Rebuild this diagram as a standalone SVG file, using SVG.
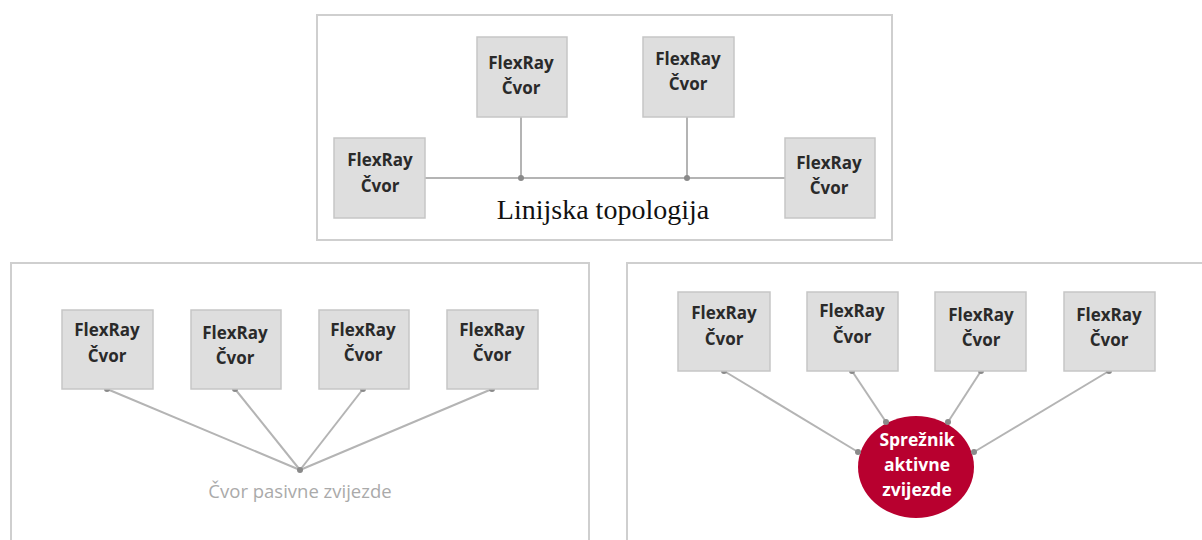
<svg xmlns="http://www.w3.org/2000/svg" width="1202" height="540" viewBox="0 0 1202 540">
<style>
.frame{fill:#fff;stroke:#cfcfcf;stroke-width:2}
.box{fill:#dedede;stroke:#c6c6c6;stroke-width:1.5}
.nt{font-family:"Open Sans","Noto Sans",sans-serif;font-weight:bold;font-size:17px;fill:#2a2a2a;text-anchor:middle}
.ln{stroke:#b4b4b4;stroke-width:2;fill:none}
.dot{fill:#8a8a8a}
.cap{font-family:"Liberation Serif",serif;font-size:28px;fill:#111;text-anchor:middle}
.pas{font-family:"Open Sans","Noto Sans",sans-serif;font-size:18.5px;fill:#aaaaaa;text-anchor:middle}
.hub{font-family:"Open Sans","Noto Sans",sans-serif;font-weight:bold;font-size:17.5px;fill:#fff;text-anchor:middle}
</style>
<rect width="1202" height="540" fill="#fff"/>
<g id="frames">
<rect class="frame" x="317" y="15" width="575" height="225"/>
<rect class="frame" x="11" y="263" width="578" height="290"/>
<rect class="frame" x="627" y="263" width="590" height="290"/>
</g>
<g id="connectors">
<line class="ln" x1="425" y1="178" x2="785" y2="178"/>
<line class="ln" x1="521" y1="117" x2="521" y2="178"/>
<line class="ln" x1="687" y1="117" x2="687" y2="178"/>
<circle class="dot" cx="521" cy="178" r="3"/>
<circle class="dot" cx="687" cy="178" r="3"/>
<line class="ln" x1="107" y1="389" x2="300" y2="470"/>
<line class="ln" x1="235" y1="389" x2="300" y2="470"/>
<line class="ln" x1="363" y1="389" x2="300" y2="470"/>
<line class="ln" x1="492" y1="389" x2="300" y2="470"/>
<circle class="dot" cx="107" cy="389" r="3"/>
<circle class="dot" cx="235" cy="389" r="3"/>
<circle class="dot" cx="363" cy="389" r="3"/>
<circle class="dot" cx="492" cy="389" r="3"/>
<circle class="dot" cx="300" cy="470" r="3"/>
<line class="ln" x1="724" y1="371" x2="858" y2="452"/>
<line class="ln" x1="852" y1="371" x2="886" y2="422"/>
<line class="ln" x1="981" y1="371" x2="948" y2="422"/>
<line class="ln" x1="1109" y1="371" x2="974" y2="452"/>
<circle class="dot" cx="724" cy="371" r="3"/>
<circle class="dot" cx="852" cy="371" r="3"/>
<circle class="dot" cx="981" cy="371" r="3"/>
<circle class="dot" cx="1109" cy="371" r="3"/>
</g>
<g id="t1"><rect class="box" x="477" y="37" width="90" height="80"/><text class="nt" x="521" y="69">FlexRay</text><text class="nt" x="521" y="94">Čvor</text></g>
<g id="t2"><rect class="box" x="643" y="37" width="91" height="80"/><text class="nt" x="688" y="65">FlexRay</text><text class="nt" x="688" y="90">Čvor</text></g>
<g id="t3"><rect class="box" x="334" y="138" width="91" height="80"/><text class="nt" x="380" y="166">FlexRay</text><text class="nt" x="380" y="192">Čvor</text></g>
<g id="t4"><rect class="box" x="785" y="138" width="90" height="80"/><text class="nt" x="829" y="169">FlexRay</text><text class="nt" x="829" y="194">Čvor</text></g>
<text id="cap-line" class="cap" x="603" y="219">Linijska topologija</text>
<g id="p1"><rect class="box" x="62" y="310" width="91" height="79"/><text class="nt" x="107" y="336">FlexRay</text><text class="nt" x="107" y="362">Čvor</text></g>
<g id="p2"><rect class="box" x="191" y="310" width="90" height="79"/><text class="nt" x="235" y="339">FlexRay</text><text class="nt" x="235" y="364">Čvor</text></g>
<g id="p3"><rect class="box" x="319" y="310" width="90" height="79"/><text class="nt" x="363" y="336">FlexRay</text><text class="nt" x="363" y="361">Čvor</text></g>
<g id="p4"><rect class="box" x="447" y="310" width="91" height="79"/><text class="nt" x="492" y="336">FlexRay</text><text class="nt" x="492" y="361">Čvor</text></g>
<text id="cap-passive" class="pas" x="300" y="498">Čvor pasivne zvijezde</text>
<g id="a1"><rect class="box" x="678" y="292" width="92" height="79"/><text class="nt" x="724" y="319">FlexRay</text><text class="nt" x="724" y="345">Čvor</text></g>
<g id="a2"><rect class="box" x="807" y="292" width="91" height="79"/><text class="nt" x="852" y="317">FlexRay</text><text class="nt" x="852" y="343">Čvor</text></g>
<g id="a3"><rect class="box" x="935" y="292" width="91" height="79"/><text class="nt" x="981" y="321">FlexRay</text><text class="nt" x="981" y="346">Čvor</text></g>
<g id="a4"><rect class="box" x="1064" y="292" width="91" height="79"/><text class="nt" x="1109" y="321">FlexRay</text><text class="nt" x="1109" y="346">Čvor</text></g>
<g id="hub"><ellipse cx="916" cy="467" rx="58" ry="51" fill="#b8002f"/><text class="hub" x="917" y="446">Sprežnik</text><text class="hub" x="917" y="471">aktivne</text><text class="hub" x="917" y="496">zvijezde</text>
<circle class="dot" cx="858" cy="452" r="3"/><circle class="dot" cx="886" cy="422" r="3"/><circle class="dot" cx="948" cy="422" r="3"/><circle class="dot" cx="974" cy="452" r="3"/></g>
</svg>
